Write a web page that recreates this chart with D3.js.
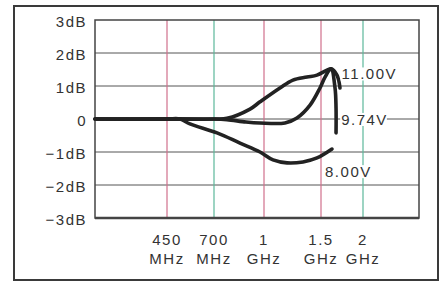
<!DOCTYPE html>
<html>
<head>
<meta charset="utf-8">
<script src="https://cdn.jsdelivr.net/npm/d3@7"></script>
<style>
  body { margin: 0; background: #fff; }
  text { font-family: "Liberation Sans", Arial, sans-serif; font-size: 15px; fill: #333; letter-spacing: 1.5px; }
</style>
</head>
<body>
<svg id="chart" width="440" height="282"></svg>
<script>
// tick values (MHz) and labels
var freqTicks = [450, 700, 1000, 1500, 2000];
var freqTop = ['450', '700', '1', '1.5', '2'];
var freqUnit = ['MHz', 'MHz', 'GHz', 'GHz', 'GHz'];
var tickColors = ['#d0708c', '#5cb89a', '#d0708c', '#d0708c', '#5cb89a'];
var dbTicks = [3, 2, 1, 0, -1, -2, -3];
var dbLabels = ['3dB', '2dB', '1dB', '0', '\u22121dB', '\u22122dB', '\u22123dB'];

// response curves, [MHz, dB]
var v800 = [[100, 0], [450, 0], [519, 0], [572, -0.15], [718, -0.42], [856, -0.73], [976, -1.0],
  [1079, -1.24], [1202, -1.33], [1342, -1.3], [1465, -1.18], [1631, -0.91]];
var v974 = [[100, 0], [700, 0], [778, -0.02], [892, -0.09], [976, -0.12], [1184, -0.12], [1289, 0.03],
  [1404, 0.42], [1491, 0.94], [1548, 1.27], [1619, 1.52], [1667, 0.94], [1679, 0.33], [1679, -0.42]];
var v1100 = [[100, 0], [700, 0], [778, 0.02], [916, 0.3], [976, 0.52], [1140, 0.94], [1254, 1.18],
  [1377, 1.27], [1465, 1.33], [1571, 1.48], [1619, 1.52], [1690, 1.33], [1726, 0.94]];
var curveLabels = [
  { text: '11.00V', f: 1745, db: 1.38 },
  { text: '9.74V', f: 1740, db: 0 },
  { text: '8.00V', f: 1548, db: -1.58 }
];

var svg = d3.select('#chart');
var plotL = 95, plotR = 419, plotT = 20, plotB = 218;

// the frequency axis of the original is not linear, so use a piecewise scale
var x = d3.scaleLinear()
  .domain([100, 450, 700, 1000, 1500, 2000, 2600])
  .range([plotL, 167, 214, 264, 321, 363, plotR]);
var y = d3.scaleLinear().domain([-3, 3]).range([plotB, plotT]);

// outer frame
svg.append('rect')
  .attr('x', 14).attr('y', 6).attr('width', 424).attr('height', 274)
  .attr('fill', 'none').attr('stroke', '#3a3a3a').attr('stroke-width', 2);

// horizontal grid
svg.selectAll('.hgrid')
  .data(dbTicks.filter(function (d) { return d > -3 && d < 3; }))
  .enter().append('line')
  .attr('class', 'hgrid')
  .attr('x1', plotL).attr('x2', plotR)
  .attr('y1', function (d) { return y(d); }).attr('y2', function (d) { return y(d); })
  .attr('stroke', '#555').attr('stroke-width', 1);

// vertical grid
svg.selectAll('.vgrid')
  .data(freqTicks)
  .enter().append('line')
  .attr('class', 'vgrid')
  .attr('x1', function (d) { return x(d); }).attr('x2', function (d) { return x(d); })
  .attr('y1', plotT).attr('y2', plotB)
  .attr('stroke', function (d, i) { return tickColors[i]; }).attr('stroke-width', 1.2);

// plot border
svg.append('rect')
  .attr('x', plotL).attr('y', plotT).attr('width', plotR - plotL).attr('height', plotB - plotT)
  .attr('fill', 'none').attr('stroke', '#444').attr('stroke-width', 1.5);
svg.append('line')
  .attr('x1', plotL).attr('x2', plotR).attr('y1', plotB).attr('y2', plotB)
  .attr('stroke', '#444').attr('stroke-width', 2.5);

// y labels
svg.selectAll('.ylab')
  .data(dbTicks)
  .enter().append('text')
  .attr('class', 'ylab')
  .attr('x', 87)
  .attr('y', function (d) { return y(d) + 7; })
  .attr('text-anchor', 'end')
  .text(function (d, i) { return dbLabels[i]; });

// x labels
var xl = svg.selectAll('.xlab')
  .data(freqTicks)
  .enter().append('g')
  .attr('class', 'xlab')
  .attr('transform', function (d) { return 'translate(' + x(d) + ',0)'; });
xl.append('text').attr('y', 245).attr('text-anchor', 'middle')
  .text(function (d, i) { return freqTop[i]; });
xl.append('text').attr('y', 264).attr('text-anchor', 'middle')
  .text(function (d, i) { return freqUnit[i]; });

// curves
var line = d3.line()
  .x(function (d) { return x(d[0]); })
  .y(function (d) { return y(d[1]); })
  .curve(d3.curveCatmullRom.alpha(0.5));

[v800, v974, v1100].forEach(function (s) {
  svg.append('path')
    .attr('d', line(s))
    .attr('fill', 'none')
    .attr('stroke', '#222')
    .attr('stroke-width', 3.6)
    .attr('stroke-linecap', 'round')
    .attr('stroke-linejoin', 'round');
});

// curve labels, with white behind them so the grid breaks
curveLabels.forEach(function (l) {
  var t = svg.append('text')
    .attr('x', x(l.f))
    .attr('y', y(l.db) + 6)
    .text(l.text);
  var b = t.node().getBBox();
  svg.insert('rect', function () { return t.node(); })
    .attr('x', b.x - 1).attr('y', b.y + 2)
    .attr('width', b.width).attr('height', b.height - 4)
    .attr('fill', '#fff');
});
</script>
</body>
</html>
